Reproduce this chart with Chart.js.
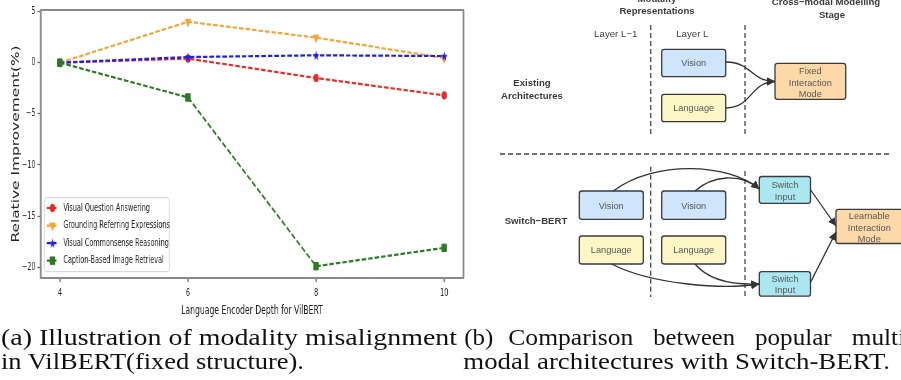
<!DOCTYPE html>
<html><head><meta charset="utf-8">
<script src="https://cdn.jsdelivr.net/npm/chart.js@4"></script>
<style>
html,body{margin:0;padding:0;background:#fff;width:901px;height:380px;overflow:hidden;position:relative}
#wrap{position:absolute;left:0;top:0;width:723px;height:320px;transform:scaleX(0.65);transform-origin:0 0}
#fig{position:absolute;left:0;top:0}
</style></head><body>
<div id="wrap"><canvas id="c"></canvas></div>
<svg id="fig" width="901" height="380" viewBox="0 0 901 380" font-family="'Liberation Sans', Arial, sans-serif">
<defs><marker id="ah" viewBox="0 0 10 10" refX="10" refY="5" markerWidth="9" markerHeight="8" markerUnits="userSpaceOnUse" orient="auto"><path d="M0,0 L10,5 L0,10 z" fill="#333"/></marker></defs>
<g font-weight="bold" fill="#3a3a3a" font-size="9.6" text-anchor="middle">
 <text x="657" y="1.5">Modality</text>
 <text x="657" y="13.5">Representations</text>
 <text x="826" y="4.5">Cross−modal Modelling</text>
 <text x="832" y="17.5">Stage</text>
 <text x="532" y="86">Existing</text>
 <text x="532" y="98.5">Architectures</text>
 <text x="536" y="223.5">Switch−BERT</text>
</g>
<g fill="#444" font-size="9.7" text-anchor="middle">
 <text x="615.8" y="36.5">Layer L−1</text>
 <text x="692.3" y="36.5">Layer L</text>
</g>
<g stroke="#555" stroke-width="1.4" stroke-dasharray="5,3" fill="none">
 <line x1="650.7" y1="25" x2="650.7" y2="137"/>
 <line x1="745" y1="25" x2="745" y2="137"/>
 <line x1="650.7" y1="166.7" x2="650.7" y2="297"/>
 <line x1="745" y1="171" x2="745" y2="297"/>
 <line x1="500" y1="154" x2="892" y2="154" stroke="#444"/>
</g>
<g stroke="#3a3a3a" stroke-width="1.3">
 <rect x="661.7" y="49.3" width="64" height="27.4" rx="2.5" fill="#cfe5fc"/>
 <rect x="661.7" y="94.3" width="64" height="27.4" rx="2.5" fill="#fdf7c6"/>
 <rect x="775" y="63.3" width="70.7" height="36" rx="2.5" fill="#fdd9aa"/>
 <rect x="579.3" y="191" width="64" height="28.3" rx="2.5" fill="#cfe5fc"/>
 <rect x="661.7" y="191" width="64" height="28.3" rx="2.5" fill="#cfe5fc"/>
 <rect x="579.3" y="236" width="64" height="28" rx="2.5" fill="#fdf7c6"/>
 <rect x="661.7" y="236" width="64" height="28" rx="2.5" fill="#fdf7c6"/>
 <rect x="759.3" y="176.5" width="51.2" height="26.8" rx="2.5" fill="#abe7f0"/>
 <rect x="759.3" y="271.7" width="51.2" height="24.5" rx="2.5" fill="#abe7f0"/>
 <rect x="836" y="209.3" width="70" height="34.2" rx="2.5" fill="#fdd9aa"/>
</g>
<g fill="#555" font-size="9.2" text-anchor="middle">
 <text x="693.7" y="66.3">Vision</text>
 <text x="693.7" y="111.3">Language</text>
 <text x="810.3" y="74">Fixed</text>
 <text x="810.3" y="85.6">Interaction</text>
 <text x="810.3" y="97.3">Mode</text>
 <text x="611.3" y="208.5">Vision</text>
 <text x="693.7" y="208.5">Vision</text>
 <text x="611.3" y="253.3">Language</text>
 <text x="693.7" y="253.3">Language</text>
 <text x="785" y="188.3">Switch</text>
 <text x="785" y="200">Input</text>
 <text x="785" y="281.6">Switch</text>
 <text x="785" y="293.3">Input</text>
 <text x="869.3" y="219.3">Learnable</text>
 <text x="869.3" y="231">Interaction</text>
 <text x="869.3" y="242">Mode</text>
</g>
<g stroke="#333" stroke-width="1.3" fill="none" marker-end="url(#ah)">
 <path d="M725.7,62 C752,62 750,81 775,81.5"/>
 <path d="M725.7,108 C752,108 750,82 775,81.5"/>
 <path d="M613.3,191 C655,160 728,163 759.3,189"/>
 <path d="M695,191 C712,176 740,172 759.3,189"/>
 <path d="M611.7,264 C650,284 722,290 759.3,284"/>
 <path d="M695,264 C710,282 735,285 759.3,284"/>
 <path d="M810.7,190 L836,226"/>
 <path d="M810.7,282 L836,232"/>
</g>
<g font-family="'Liberation Serif', 'DejaVu Serif', serif" font-size="24" fill="#111">
 <text x="1" y="345" textLength="456" lengthAdjust="spacingAndGlyphs">(a) Illustration of modality misalignment</text>
 <text x="1" y="369" textLength="303" lengthAdjust="spacingAndGlyphs">in VilBERT(fixed structure).</text>
 <text x="464.3" y="345" textLength="29" lengthAdjust="spacingAndGlyphs">(b)</text>
 <text x="508.3" y="345" textLength="125" lengthAdjust="spacingAndGlyphs">Comparison</text>
 <text x="653.3" y="345" textLength="81.7" lengthAdjust="spacingAndGlyphs">between</text>
 <text x="755" y="345" textLength="76.7" lengthAdjust="spacingAndGlyphs">popular</text>
 <text x="851.7" y="345" textLength="53.5" lengthAdjust="spacingAndGlyphs">multi</text>
 <text x="463.3" y="369" textLength="426.7" lengthAdjust="spacingAndGlyphs">modal architectures with Switch-BERT.</text>
</g>
</svg>
<script>
const depths = [4, 6, 8, 10];
const xTicks = [4, 6, 8, 10];
const yTicks = [-20, -15, -10, -5, 0, 5];
const seriesNames = ['Visual Question Answering', 'Grounding Referring Expressions', 'Visual Commonsense Reasoning', 'Caption-Based Image Retrieval'];
const vqa = [0, 0.4, -1.5, -3.2];
const gre = [0, 4.0, 2.45, 0.45];
const vcr = [0, 0.55, 0.72, 0.65];
const cbir = [0, -3.4, -19.9, -18.1];

const COLORS = ['#ee2a24', '#f4a534', '#1f1fe8', '#2d7a23'];
function starCanvas(color) {
  const c = document.createElement('canvas'); c.width = 11; c.height = 11;
  const g = c.getContext('2d'); g.fillStyle = color; g.beginPath();
  for (let i = 0; i < 10; i++) {
    const r = i % 2 ? 2.1 : 5.2; const a = -Math.PI / 2 + i * Math.PI / 5;
    const px = 5.5 + r * Math.cos(a), py = 6 + r * Math.sin(a);
    i ? g.lineTo(px, py) : g.moveTo(px, py);
  }
  g.closePath(); g.fill(); return c;
}
const markers = [
  {pointStyle: 'circle', radius: 3.8, rotation: 0},
  {pointStyle: 'triangle', radius: 5, rotation: 180},
  {pointStyle: starCanvas(COLORS[2]), radius: 5, rotation: 0},
  {pointStyle: 'rect', radius: 5.2, rotation: 0}
];
const values = [vqa, gre, vcr, cbir];
const FONT = 'DejaVu Sans';

const datasets = values.map((vals, k) => ({
  label: seriesNames[k],
  data: depths.map((x, i) => ({x: x, y: vals[i]})),
  borderColor: COLORS[k], backgroundColor: COLORS[k],
  borderWidth: 2.2, borderDash: [7, 3], tension: 0, fill: false,
  pointStyle: markers[k].pointStyle, pointRadius: markers[k].radius,
  pointRotation: markers[k].rotation,
  pointBackgroundColor: COLORS[k], pointBorderColor: COLORS[k], pointBorderWidth: 1,
  order: 4 - k
}));

const framePlugin = {
  id: 'frame',
  afterDatasetsDraw(chart) {
    const {ctx, chartArea: a} = chart;
    ctx.save();
    ctx.strokeStyle = '#8a8a8a'; ctx.setLineDash([]);
    ctx.lineWidth = 2; ctx.beginPath();
    ctx.moveTo(a.left - 1, a.top); ctx.lineTo(a.right + 1, a.top);
    ctx.moveTo(a.left - 1, a.bottom); ctx.lineTo(a.right + 1, a.bottom); ctx.stroke();
    ctx.lineWidth = 2.8; ctx.beginPath();
    ctx.moveTo(a.left, a.top); ctx.lineTo(a.left, a.bottom);
    ctx.moveTo(a.right, a.top); ctx.lineTo(a.right, a.bottom); ctx.stroke();
    // legend
    const lx = a.left + 5.6, ly = a.bottom - 80.3, lw = 192.3, lh = 74;
    ctx.beginPath();
    if (ctx.roundRect) ctx.roundRect(lx, ly, lw, lh, 4); else ctx.rect(lx, ly, lw, lh);
    ctx.fillStyle = 'rgba(255,255,255,0.85)'; ctx.fill();
    ctx.strokeStyle = '#d8d8d8'; ctx.lineWidth = 1.2; ctx.stroke();
    chart.data.datasets.forEach((ds, k) => {
      const y = ly + 10.3 + k * 17.55;
      ctx.strokeStyle = ds.borderColor; ctx.lineWidth = 2.2; ctx.setLineDash([6, 3]);
      ctx.beginPath(); ctx.moveTo(lx + 3.6, y); ctx.lineTo(lx + 21.5, y); ctx.stroke();
      ctx.setLineDash([]);
      ctx.fillStyle = ds.backgroundColor; ctx.strokeStyle = ds.borderColor; ctx.lineWidth = 1;
      Chart.helpers.drawPoint(ctx, {pointStyle: ds.pointStyle, radius: ds.pointRadius, rotation: ds.pointRotation, borderWidth: 1}, lx + 12.6, y);
      ctx.fillStyle = '#222'; ctx.font = '10px "' + FONT + '"'; ctx.textBaseline = 'middle'; ctx.textAlign = 'left';
      ctx.fillText(ds.label, lx + 29.2, y);
    });
    ctx.restore();
  }
};

const fmt = v => v < 0 ? '\u2212' + Math.abs(v) : String(v);

new Chart(document.getElementById('c'), {
  type: 'line',
  data: {datasets: datasets},
  options: {
    responsive: true, maintainAspectRatio: false, animation: false, events: [],
    layout: {padding: {top: 10, right: 10, left: 0, bottom: 0}},
    plugins: {legend: {display: false}, tooltip: {enabled: false}},
    scales: {
      x: {
        type: 'linear', min: 3.7, max: 10.3,
        afterBuildTicks: s => { s.ticks = xTicks.map(v => ({value: v})); },
        afterFit: s => { s.height = 42; },
        grid: {drawOnChartArea: false, drawTicks: true, tickLength: 4, tickColor: '#666', tickWidth: 2},
        border: {display: false},
        ticks: {font: {family: FONT, size: 10}, color: '#222', padding: 5, maxRotation: 0, callback: fmt},
        title: {display: true, text: 'Language Encoder Depth for VilBERT', font: {family: FONT, size: 11.8}, color: '#222', padding: {top: 0, bottom: 2}}
      },
      y: {
        type: 'linear', min: -21.05, max: 5.15,
        afterBuildTicks: s => { s.ticks = yTicks.map(v => ({value: v})); },
        afterFit: s => { s.width = 62.6; },
        grid: {drawOnChartArea: false, drawTicks: true, tickLength: 5, tickColor: '#666', tickWidth: 1.3},
        border: {display: false},
        ticks: {font: {family: FONT, size: 10}, color: '#222', padding: 3, callback: fmt},
        title: {display: true, text: 'Relative Improvement(%)', font: {family: FONT, size: 15.4}, color: '#222', padding: {top: 15.4, bottom: 0}}
      }
    }
  },
  plugins: [framePlugin]
});
</script>
</body></html>
